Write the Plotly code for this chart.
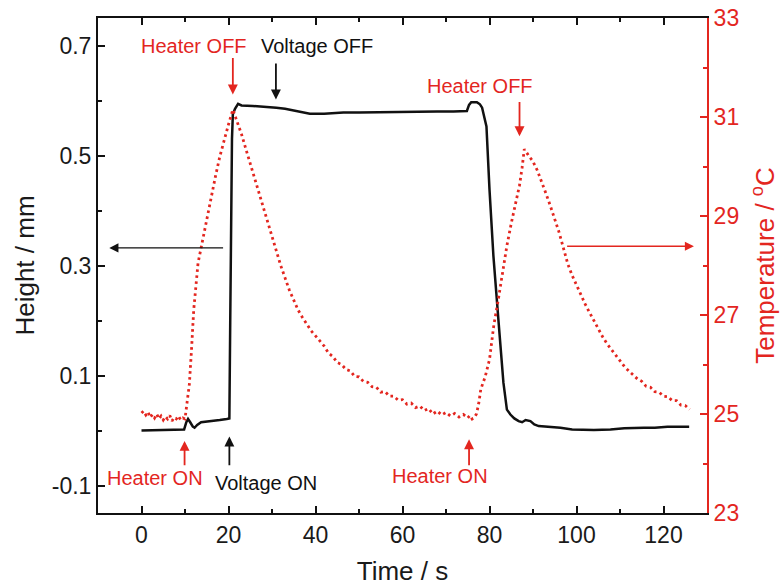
import plotly.graph_objects as go

# Height of the actuator (mm) versus time (s)
height_t = [0, 5, 9.8, 10.3, 10.7, 11.2, 11.8, 12.2, 12.8, 13.7, 15, 16.4, 18, 19.6, 20.2,
            20.4, 20.6, 20.8, 21.0, 21.5, 22.2, 23, 25.6, 28, 31, 33, 35.6, 37, 38.7, 42,
            46.4, 50, 56.4, 64.8, 68, 71.7, 74.8, 75.3, 75.8, 77.1, 77.8, 78.3, 79.3, 80.0,
            80.9, 82.1, 83.2, 84.0, 84.8, 85.7, 86.7, 87.5, 88.3, 89.4, 90.3, 91.3, 93, 96.3,
            99, 101.7, 104, 107.8, 111, 115.5, 118, 120.9, 125.9]
height_mm = [0.0, 0.001, 0.002, 0.015, 0.021, 0.015, 0.007, 0.005, 0.010, 0.015, 0.016, 0.018,
             0.019, 0.021, 0.022, 0.20, 0.40, 0.53, 0.575, 0.585, 0.594, 0.591, 0.590, 0.589,
             0.587, 0.585, 0.581, 0.578, 0.576, 0.576, 0.578, 0.578, 0.579, 0.579, 0.580,
             0.580, 0.581, 0.592, 0.597, 0.597, 0.593, 0.587, 0.553, 0.438, 0.317, 0.196,
             0.087, 0.038, 0.029, 0.022, 0.017, 0.015, 0.019, 0.017, 0.011, 0.008, 0.007,
             0.005, 0.002, 0.001, 0.001, 0.002, 0.004, 0.005, 0.005, 0.007, 0.007]

# Heater temperature (°C) versus time (s)
temp_t = [0, 0.5, 1, 1.5, 2, 2.5, 3, 3.5, 4, 4.5, 5, 5.5, 6, 6.5, 7, 7.5, 8, 8.5, 9, 9.5, 10,
          10.5, 11, 11.5, 12, 13, 14, 15, 16, 17, 18, 19, 20, 21,
          22, 23, 24, 25, 26, 27, 28, 29, 30, 31, 32, 33, 34, 35, 36, 37, 38, 39, 40,
          41, 42, 43, 44, 45, 46, 47, 48, 49, 50, 51, 52, 53, 54, 55, 56, 57, 58, 59, 60,
          61, 62, 63, 64, 65, 66, 67, 68, 69, 70, 71, 72, 73, 74, 75, 75.5,
          76, 76.5, 77, 77.5, 78, 79, 80, 81, 82, 83, 84, 85, 86, 86.9,
          87.5, 88, 89, 90, 91, 92, 93, 94, 95, 96, 97, 98, 99, 100, 101, 102, 103, 104, 105,
          106, 107, 108, 109, 110, 111, 112, 113, 114, 115, 116, 117, 118, 119, 120, 121,
          122, 123, 124, 125, 126]
temp_c = [25.02, 25.06, 24.98, 25.04, 24.93, 24.99, 24.92, 25.00, 24.90, 24.96, 24.88, 24.95,
          24.90, 24.97, 24.86, 24.93, 24.90, 24.96, 24.88, 24.92, 24.90,
          25.20, 25.60, 26.30, 27.10, 28.05, 28.50, 28.95, 29.40, 29.80, 30.20, 30.55, 30.85,
          31.15,
          30.90, 30.65, 30.35, 30.05, 29.75, 29.45, 29.15, 28.85, 28.55, 28.25, 28.00, 27.75,
          27.50, 27.30, 27.10, 26.95, 26.80, 26.68, 26.58,
          26.47, 26.37, 26.23, 26.16, 26.04, 26.00, 25.90, 25.87, 25.76, 25.75, 25.66, 25.64,
          25.55, 25.54, 25.44, 25.45, 25.36, 25.36, 25.28, 25.29, 25.20, 25.22, 25.13, 25.16,
          25.07, 25.11, 25.00, 25.06, 24.98, 25.03, 24.96, 25.01, 24.94, 24.99, 24.92, 24.97,
          24.90, 24.93,
          25.00, 25.20, 25.50, 25.75, 26.10, 26.80, 27.30, 27.90, 28.40, 28.85, 29.25, 29.62,
          29.98, 30.35,
          30.22, 30.10, 29.92, 29.70, 29.45, 29.20, 28.93, 28.67, 28.35, 28.03, 27.80, 27.60,
          27.40, 27.22, 27.05, 26.88, 26.72, 26.56, 26.42, 26.30, 26.18, 26.06, 25.96, 25.87,
          25.79, 25.71, 25.66, 25.56, 25.54, 25.45, 25.44, 25.36, 25.35, 25.27, 25.27, 25.18,
          25.17, 25.09, 25.06, 24.99]

# Tick labels
x_ticks = [0, 20, 40, 60, 80, 100, 120]
x_minor = [-10, 10, 30, 50, 70, 90, 110, 130]
h_ticks = [-0.1, 0.1, 0.3, 0.5, 0.7]
h_ticklabels = ["-0.1", "0.1", "0.3", "0.5", "0.7"]
h_minor = [0.0, 0.2, 0.4, 0.6]
t_ticks = [23, 25, 27, 29, 31, 33]
t_minor = [24, 26, 28, 30, 32]

BLACK = "#111111"
RED = "#e3261f"
FONT = "Liberation Sans, Arial, sans-serif"

fig = go.Figure()

fig.add_trace(go.Scatter(
    x=temp_t, y=temp_c, yaxis="y2", mode="lines",
    line=dict(color=RED, width=2.8, dash="2.6px,3.4px"),
    showlegend=False,
))
fig.add_trace(go.Scatter(
    x=height_t, y=height_mm, mode="lines",
    line=dict(color=BLACK, width=2.5),
    showlegend=False,
))

annotations = []


def label(text, x, y, color, yref="y"):
    annotations.append(dict(
        text=text, x=x, y=y, xref="x", yref=yref, showarrow=False,
        font=dict(family=FONT, size=20, color=color),
        xanchor="center", yanchor="middle",
    ))


def arrow(x, y, ax, ay, color, yref="y", width=1.8, size=1.1):
    annotations.append(dict(
        text="", x=x, y=y, ax=ax, ay=ay, xref="x", yref=yref,
        axref="x", ayref=yref, showarrow=True, arrowhead=2,
        arrowsize=size, arrowwidth=width, arrowcolor=color, standoff=0,
    ))


# Event labels and markers
label("Heater OFF", 12.0, 0.700, RED)
arrow(21.0, 0.611, 21.0, 0.680, RED)
label("Voltage OFF", 40.4, 0.700, BLACK)
arrow(30.9, 0.602, 30.9, 0.670, BLACK)
label("Heater OFF", 77.9, 0.626, RED)
arrow(86.9, 0.535, 86.9, 0.600, RED)
label("Heater ON", 3.0, -0.086, RED)
arrow(9.9, -0.019, 9.9, -0.066, RED)
label("Voltage ON", 28.6, -0.095, BLACK)
arrow(20.2, -0.011, 20.2, -0.066, BLACK)
label("Heater ON", 68.7, -0.082, RED)
arrow(75.3, -0.016, 75.3, -0.066, RED)

# Axis pointers
arrow(-7.4, 0.332, 19.1, 0.332, BLACK, width=1.4, size=1.3)
arrow(127.0, 28.39, 97.5, 28.39, RED, yref="y2", width=1.4, size=1.3)

axis_common = dict(
    showline=True, linewidth=2, ticks="inside", ticklen=7, tickwidth=2,
    showgrid=False, zeroline=False, automargin=False,
)

fig.update_layout(
    width=780, height=586,
    margin=dict(l=98, r=73, t=18, b=73),
    paper_bgcolor="white", plot_bgcolor="white",
    font=dict(family=FONT, color="#1a1a1a"),
    annotations=annotations,
    xaxis=dict(
        **axis_common, range=[-10, 130], linecolor=BLACK, tickcolor=BLACK,
        tickmode="array", tickvals=x_ticks, mirror="ticks",
        minor=dict(tickmode="array", tickvals=x_minor, ticks="inside", ticklen=4,
                   tickwidth=2, tickcolor=BLACK),
        tickfont=dict(size=23, color="#1a1a1a"),
        title=dict(text="Time / s", font=dict(size=26, color="#1a1a1a"), standoff=18),
    ),
    yaxis=dict(
        **axis_common, range=[-0.15, 0.75], linecolor=BLACK, tickcolor=BLACK,
        tickmode="array", tickvals=h_ticks, ticktext=h_ticklabels,
        minor=dict(tickmode="array", tickvals=h_minor, ticks="inside", ticklen=4,
                   tickwidth=2, tickcolor=BLACK),
        tickfont=dict(size=23, color="#1a1a1a"),
        title=dict(text="Height / mm", font=dict(size=26, color="#1a1a1a"), standoff=10),
    ),
    yaxis2=dict(
        **axis_common, range=[23, 33], overlaying="y", side="right",
        linecolor=RED, tickcolor=RED,
        tickmode="array", tickvals=t_ticks,
        minor=dict(tickmode="array", tickvals=t_minor, ticks="inside", ticklen=4,
                   tickwidth=2, tickcolor=RED),
        tickfont=dict(size=23, color=RED),
        title=dict(text="Temperature / <sup>o</sup>C", font=dict(size=26, color=RED),
                   standoff=20),
    ),
)

fig.write_html("out.html")
